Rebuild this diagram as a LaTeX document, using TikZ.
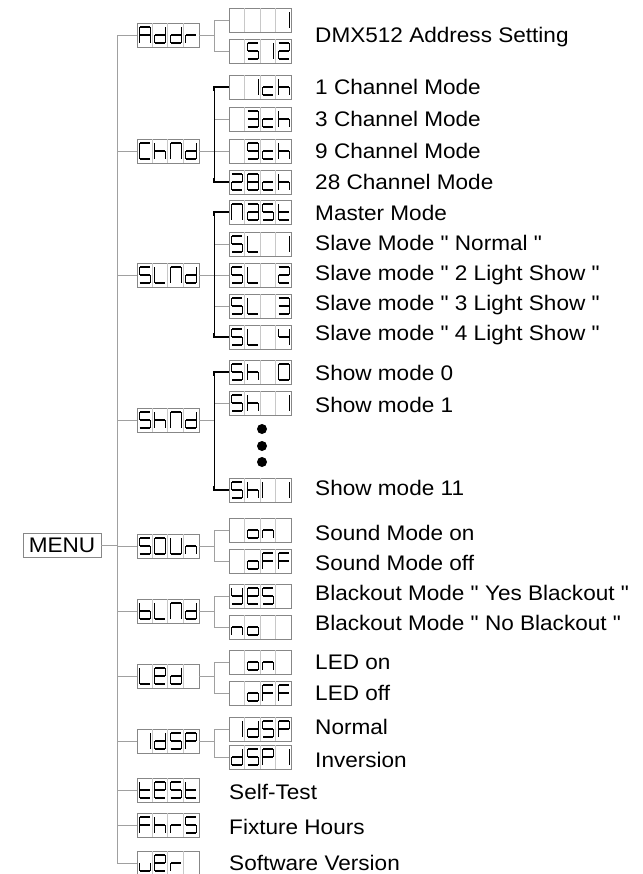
\documentclass[tikz,border=0pt]{standalone}
\usepackage{fontspec}
\setmainfont{Liberation Sans}[FakeStretch=1.07, Ligatures=TeXOff]
\usepackage{tikz}
\definecolor{wire}{RGB}{160, 160, 160}
\definecolor{frame}{RGB}{135, 135, 135}
\definecolor{cellrule}{RGB}{200, 200, 200}

% segment lists of the display glyphs
\newcommand\gsp{}
\newcommand\gA{a,b,c,e,f,g}
\newcommand\ga{a,b,c,d,e,g}
\newcommand\gb{c,d,e,f,g}
\newcommand\gC{a,d,e,f}
\newcommand\gc{d,e,g}
\newcommand\gd{b,c,d,e,g}
\newcommand\gE{a,b,d,e,f,g}
\newcommand\gF{a,e,f,g}
\newcommand\gh{c,e,f,g}
\newcommand\gI{b,c}
\newcommand\gIl{e,f}
\newcommand\gL{d,e,f}
\newcommand\gM{a,b,c,e,f}
\newcommand\gn{c,e,g}
\newcommand\go{c,d,e,g}
\newcommand\gO{a,b,c,d,e,f}
\newcommand\gP{a,b,e,f,g}
\newcommand\gr{e,g}
\newcommand\gS{a,c,d,f,g}
\newcommand\gt{d,e,f,g}
\newcommand\gU{b,c,d,e,f}
\newcommand\gv{c,d,e}
\newcommand\gy{b,c,d,f,g}
\newcommand\gtwo{a,b,d,e,g}
\newcommand\gthree{a,b,c,d,g}
\newcommand\gfour{b,c,f,g}
\newcommand\geight{a,b,c,d,e,f,g}
\newcommand\gnine{a,b,c,d,f,g}

\tikzset{
  lcdbox/.style={draw=frame, line width=0.6pt, minimum width=1.86cm,
    minimum height=0.72cm, inner sep=0pt},
  menubox/.style={draw=frame, line width=0.6pt, minimum width=2.34cm,
    minimum height=0.72cm, inner sep=0pt, font=\fontsize{18}{21}\selectfont},
  lcdseg/.style={black, line width=1.1pt, shorten <=0.4pt, shorten >=0.4pt},
  wireline/.style={wire, line width=0.6pt},
  wiredark/.style={black, line width=0.6pt},
  wirebold/.style={black, line width=1.6pt},
  caption/.style={anchor=base west, inner sep=0pt, font=\fontsize{18}{21}\selectfont},
}

% one glyph in the cell starting at x = #1
\newcommand\lcdglyph[2]{%
  \ifx#2\gsp\else
  \begin{scope}[shift={(#1,0)}]
    \coordinate (a1) at (2.5,-8);  \coordinate (a2) at (13.5,-8);
    \coordinate (b1) at (13.5,-8); \coordinate (b2) at (13.5,0);
    \coordinate (c1) at (13.5,0);  \coordinate (c2) at (13.5,8);
    \coordinate (d1) at (2.5,8);   \coordinate (d2) at (13.5,8);
    \coordinate (e1) at (2.5,0);   \coordinate (e2) at (2.5,8);
    \coordinate (f1) at (2.5,-8);  \coordinate (f2) at (2.5,0);
    \coordinate (g1) at (2.5,0);   \coordinate (g2) at (13.5,0);
    \foreach \s in #2 {\draw[lcdseg] (\s1) -- (\s2);}
  \end{scope}\fi}

% a four cell display: name, x, y, four glyphs
\newcommand\lcd[7]{%
  \node[lcdbox] (#1) at (#2,#3) {};
  \begin{scope}[shift={(#1.west)}]
    \foreach \k in {1,2,3} {\draw[cellrule, line width=0.4pt] (\k*15.5,-11.6) -- (\k*15.5,11.6);}
    \lcdglyph{0}{#4}\lcdglyph{15.5}{#5}\lcdglyph{31}{#6}\lcdglyph{46.5}{#7}
  \end{scope}}

\begin{document}
\begin{tikzpicture}[x=0.03cm, y=-0.03cm]
  \fill[white] (0,0) rectangle (642,874);
  \useasboundingbox (0,0) rectangle (642,874);
  \clip (0,0) rectangle (642,874);
  \coordinate (trunk) at (117,0);
  \coordinate (fork) at (214,0);

  % Menu
  \node[menubox] (menu) at (62,545) {MENU};

  % Main items
  \lcd{addr}{168}{35}{\gA}{\gd}{\gd}{\gr}
  \lcd{chmd}{168}{151}{\gC}{\gh}{\gM}{\gd}
  \lcd{slmd}{168}{275}{\gS}{\gL}{\gM}{\gd}
  \lcd{shmd}{168}{420}{\gS}{\gh}{\gM}{\gd}
  \lcd{soun}{168}{546}{\gS}{\gO}{\gU}{\gn}
  \lcd{blmd}{168}{611}{\gb}{\gL}{\gM}{\gd}
  \lcd{led}{168}{676}{\gL}{\gE}{\gd}{\gsp}
  \lcd{idsp}{168}{741}{\gI}{\gd}{\gS}{\gP}
  \lcd{test}{168}{790}{\gt}{\gE}{\gS}{\gt}
  \lcd{fhrs}{168}{825}{\gF}{\gh}{\gr}{\gS}
  \lcd{ver}{168}{863}{\gv}{\gE}{\gr}{\gsp}

  % Sub items
  \lcd{addrone}{260.5}{20}{\gsp}{\gsp}{\gsp}{\gI}
  \lcd{addrmax}{260.5}{51}{\gsp}{\gS}{\gI}{\gtwo}
  \lcd{chone}{260.5}{87}{\gsp}{\gI}{\gc}{\gh}
  \lcd{chthree}{260.5}{119}{\gsp}{\gthree}{\gc}{\gh}
  \lcd{chnine}{260.5}{151}{\gsp}{\gnine}{\gc}{\gh}
  \lcd{chtweight}{260.5}{182}{\gtwo}{\geight}{\gc}{\gh}
  \lcd{mast}{260.5}{212}{\gM}{\ga}{\gS}{\gt}
  \lcd{slone}{260.5}{244}{\gS}{\gL}{\gsp}{\gI}
  \lcd{sltwo}{260.5}{275}{\gS}{\gL}{\gsp}{\gtwo}
  \lcd{slthree}{260.5}{306}{\gS}{\gL}{\gsp}{\gthree}
  \lcd{slfour}{260.5}{337}{\gS}{\gL}{\gsp}{\gfour}
  \lcd{shzero}{260.5}{372}{\gS}{\gh}{\gsp}{\gO}
  \lcd{shone}{260.5}{403}{\gS}{\gh}{\gsp}{\gI}
  \lcd{sheleven}{260.5}{490}{\gS}{\gh}{\gIl}{\gI}
  \lcd{sounon}{260.5}{530}{\gsp}{\go}{\gn}{\gsp}
  \lcd{sounoff}{260.5}{561}{\gsp}{\go}{\gF}{\gF}
  \lcd{blyes}{260.5}{596}{\gy}{\gE}{\gS}{\gsp}
  \lcd{blno}{260.5}{627}{\gn}{\go}{\gsp}{\gsp}
  \lcd{ledon}{260.5}{662}{\gsp}{\go}{\gn}{\gsp}
  \lcd{ledoff}{260.5}{693}{\gsp}{\go}{\gF}{\gF}
  \lcd{dspnorm}{260.5}{729}{\gI}{\gd}{\gS}{\gP}
  \lcd{dspinv}{260.5}{757}{\gd}{\gS}{\gP}{\gI}

  % Trunk
  \draw[wireline] (menu.east) -- (menu.east -| trunk);
  \draw[wireline] (addr.west) -- (trunk |- addr.west) -- (trunk |- ver.west) -- (ver.west);
  \foreach \n in {chmd, slmd, shmd, soun, blmd, led, idsp, test, fhrs} {
    \draw[wireline] (trunk |- \n.west) -- (\n.west);
  }

  % Addr
  \draw[wireline] (addr.east) -- (addr.east -| fork);
  \draw[wireline] (addrone.west) -| (fork |- addrmax.west) -- (addrmax.west);

  % ChMd
  \draw[wireline] (chmd.east) -- (chnine.west);
  \draw[wireline] (fork |- chthree.west) -- (chthree.west);
  \draw[wiredark] (fork |- chone.west) -- (fork |- chtweight.west);
  \draw[wirebold] (chone.west) -- (fork |- chone.west) -- ++(0,4);
  \draw[wirebold] (chtweight.west) -- (fork |- chtweight.west) -- ++(0,-4);

  % SLMd
  \draw[wireline] (slmd.east) -- (sltwo.west);
  \draw[wireline] (fork |- slone.west) -- (slone.west);
  \draw[wireline] (fork |- slthree.west) -- (slthree.west);
  \draw[wiredark] (fork |- mast.west) -- (fork |- slfour.west);
  \draw[wirebold] (mast.west) -- (fork |- mast.west) -- ++(0,4);
  \draw[wirebold] (slfour.west) -- (fork |- slfour.west) -- ++(0,-4);

  % ShMd
  \draw[wireline] (shmd.east) -- (shmd.east -| fork);
  \draw[wireline] (fork |- shone.west) -- (shone.west);
  \draw[wiredark] (fork |- shzero.west) -- (fork |- sheleven.west);
  \draw[wirebold] (shzero.west) -- (fork |- shzero.west) -- ++(0,4);
  \draw[wirebold] (sheleven.west) -- (fork |- sheleven.west) -- ++(0,-4);
  \foreach \y in {429, 446, 462} {
    \fill[black] (262,\y) circle (0.15cm);
  }

  % SOUn
  \draw[wireline] (soun.east) -- (soun.east -| fork);
  \draw[wireline] (sounon.west) -| (fork |- sounoff.west) -- (sounoff.west);

  % bLMd
  \draw[wireline] (blmd.east) -- (blmd.east -| fork);
  \draw[wireline] (blyes.west) -| (fork |- blno.west) -- (blno.west);

  % LEd
  \draw[wireline] (led.east) -- (led.east -| fork);
  \draw[wireline] (ledon.west) -| (fork |- ledoff.west) -- (ledoff.west);

  % IdSP
  \draw[wireline] (idsp.east) -- (idsp.east -| fork);
  \draw[wireline] (dspnorm.west) -| (fork |- dspinv.west) -- (dspinv.west);

  % Captions
  \node[caption] (lbladdr) at (315,42.5) {DMX512 Address Setting};
  \node[caption] (lblchone) at (315,94.5) {1 Channel Mode};
  \node[caption] (lblchthree) at (315,126.5) {3 Channel Mode};
  \node[caption] (lblchnine) at (315,158.5) {9 Channel Mode};
  \node[caption] (lblchtweight) at (315,189.5) {28 Channel Mode};
  \node[caption] (lblmast) at (315,220.5) {Master Mode};
  \node[caption] (lblslone) at (315,250.5) {Slave Mode " Normal "};
  \node[caption] (lblsltwo) at (315,280.5) {Slave mode " 2 Light Show "};
  \node[caption] (lblslthree) at (315,310.5) {Slave mode " 3 Light Show "};
  \node[caption] (lblslfour) at (315,340.5) {Slave mode " 4 Light Show "};
  \node[caption] (lblshzero) at (315,380.5) {Show mode 0};
  \node[caption] (lblshone) at (315,412.5) {Show mode 1};
  \node[caption] (lblsheleven) at (315,495.5) {Show mode 11};
  \node[caption] (lblsounon) at (315,540.5) {Sound Mode on};
  \node[caption] (lblsounoff) at (315,570.5) {Sound Mode off};
  \node[caption] (lblblyes) at (315,600.5) {Blackout Mode " Yes Blackout "};
  \node[caption] (lblblno) at (315,630.5) {Blackout Mode " No Blackout "};
  \node[caption] (lblledon) at (315,669.5) {LED on};
  \node[caption] (lblledoff) at (315,700.5) {LED off};
  \node[caption] (lbldspnorm) at (315,734.5) {Normal};
  \node[caption] (lbldspinv) at (315,767.5) {Inversion};
  \node[caption] (lbltest) at (229,799.5) {Self-Test};
  \node[caption] (lblfhrs) at (229,834.5) {Fixture Hours};
  \node[caption] (lblver) at (229,870.5) {Software Version};

\end{tikzpicture}
\end{document}
